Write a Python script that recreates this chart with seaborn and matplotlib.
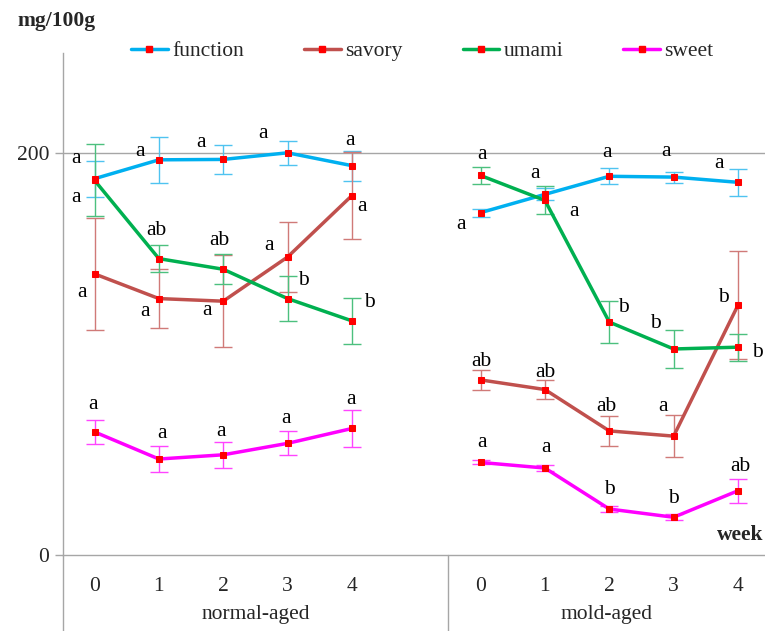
import pandas as pd
import seaborn as sns
import matplotlib.pyplot as plt
from matplotlib.lines import Line2D

sns.set_style("white")
plt.rcParams["font.family"] = ["Liberation Serif", "DejaVu Serif"]
plt.rcParams["font.size"] = 15.5

weeks = [0, 1, 2, 3, 4]
groups = ["normal-aged", "mold-aged"]
tastes = ["function", "savory", "umami", "sweet"]

# means, mg/100g
function_normal = [187.4, 196.8, 197.0, 200.3, 193.9]
function_mold = [170.5, 179.6, 188.6, 188.2, 185.6]
savory_normal = [140.0, 127.7, 126.4, 148.4, 179.0]
savory_mold = [87.2, 82.4, 61.8, 59.2, 124.4]
umami_normal = [186.6, 147.6, 142.3, 127.7, 116.6]
umami_mold = [189.0, 176.6, 116.0, 102.6, 103.5]
sweet_normal = [61.3, 47.8, 49.9, 55.6, 63.0]
sweet_mold = [46.1, 43.3, 22.9, 18.8, 32.0]

# error bars
function_normal_sd = [9.0, 11.3, 7.2, 6.0, 7.5]
function_mold_sd = [2.0, 3.0, 4.0, 2.7, 6.8]
savory_normal_sd = [28.0, 14.7, 22.8, 17.4, 21.8]
savory_mold_sd = [5.0, 4.6, 7.6, 10.5, 26.8]
umami_normal_sd = [18.0, 6.7, 7.5, 11.0, 11.6]
umami_mold_sd = [4.0, 7.0, 10.3, 9.5, 6.8]
sweet_normal_sd = [6.0, 6.6, 6.6, 6.0, 9.2]
sweet_mold_sd = [1.0, 1.5, 1.5, 1.5, 6.0]

# significance letters
function_normal_sig = ["a", "a", "a", "a", "a"]
function_mold_sig = ["a", "a", "a", "a", "a"]
savory_normal_sig = ["a", "a", "a", "a", "a"]
savory_mold_sig = ["ab", "ab", "ab", "a", "b"]
umami_normal_sig = ["a", "ab", "ab", "b", "b"]
umami_mold_sig = ["a", "a", "b", "b", "b"]
sweet_normal_sig = ["a", "a", "a", "a", "a"]
sweet_mold_sig = ["a", "a", "b", "b", "ab"]

series = {
    ("function", "normal-aged"): (function_normal, function_normal_sd, function_normal_sig),
    ("function", "mold-aged"): (function_mold, function_mold_sd, function_mold_sig),
    ("savory", "normal-aged"): (savory_normal, savory_normal_sd, savory_normal_sig),
    ("savory", "mold-aged"): (savory_mold, savory_mold_sd, savory_mold_sig),
    ("umami", "normal-aged"): (umami_normal, umami_normal_sd, umami_normal_sig),
    ("umami", "mold-aged"): (umami_mold, umami_mold_sd, umami_mold_sig),
    ("sweet", "normal-aged"): (sweet_normal, sweet_normal_sd, sweet_normal_sig),
    ("sweet", "mold-aged"): (sweet_mold, sweet_mold_sd, sweet_mold_sig),
}

# letter placement relative to the point, pixels (right, down)
label_offsets = {
    ("function", "normal-aged"): [(-19, -21), (-19, -9), (-22, -17), (-25, -20), (-2, -26)],
    ("savory", "normal-aged"): [(-13, 18), (-14, 12), (-16, 9), (-19, -12), (10, 10)],
    ("umami", "normal-aged"): [(-19, 17), (-2, -31), (-4, -31), (16, -21), (18, -21)],
    ("sweet", "normal-aged"): [(-2, -28), (3, -26), (-2, -24), (-2, -25), (-1, -29)],
    ("function", "mold-aged"): [(-20, 11), (-10, -21), (-2, -24), (-8, -26), (-19, -19)],
    ("savory", "mold-aged"): [(1, -21), (0, -20), (-3, -27), (-11, -30), (-15, -10)],
    ("umami", "mold-aged"): [(1, -21), (29, 11), (14, -17), (-18, -28), (19, 3)],
    ("sweet", "mold-aged"): [(1, -20), (1, -21), (0, -22), (0, -21), (2, -27)],
}

colors = {"function": "#00B0F0", "savory": "#C0504D", "umami": "#00B050", "sweet": "#FF00FF"}
err_colors = {"function": "#4FC3F0", "savory": "#D07A78", "umami": "#4CC07E", "sweet": "#FF44FF"}

rows = []
for (taste, group), (vals, sds, sigs) in series.items():
    gi = groups.index(group)
    for w, v, s, sig in zip(weeks, vals, sds, sigs):
        rows.append({"taste": taste, "group": group, "week": w,
                     "pos": w + 6 * gi, "value": v, "sd": s, "sig": sig})
df = pd.DataFrame(rows)

fig = plt.figure(figsize=(7.65, 6.31), dpi=100)
ax = fig.add_axes([63 / 765, 76 / 631, 702 / 765, 502 / 631])

# error bars first, lines on top
for (taste, group), sub in df.groupby(["taste", "group"]):
    ax.errorbar(sub["pos"], sub["value"], yerr=sub["sd"], fmt="none",
                ecolor=err_colors[taste], elinewidth=1, capsize=6.5,
                capthick=1, zorder=2)

sns.lineplot(data=df, x="pos", y="value", hue="taste", units="group",
             estimator=None, palette=colors, hue_order=tastes, sort=False,
             linewidth=2.5, marker="s", markersize=4.3,
             markerfacecolor="red", markeredgecolor="red",
             legend=False, ax=ax, zorder=3)

for _, r in df.iterrows():
    dx, dy = label_offsets[(r["taste"], r["group"])][r["week"]]
    shift = 5 if r["sig"] == "a" else 7
    ax.annotate(r["sig"], (r["pos"], r["value"]), xytext=(dx, -(dy + shift)),
                textcoords="offset pixels", ha="center", va="baseline",
                fontsize=15.5, color="black", zorder=4)

ax.set_xlim(-0.49, 10.42)
ax.set_ylim(0, 250)
ax.axhline(200, color="#A6A6A6", lw=1, zorder=1)

ax.set_yticks([0, 200])
ax.set_yticklabels(["0", "200"])
ax.tick_params(axis="y", direction="out", length=6, width=1,
               color="#A6A6A6", pad=4, left=True)
ax.set_xticks(df["pos"].unique())
ax.set_xticklabels([str(w) for w in weeks] * 2)
ax.tick_params(axis="x", length=0, pad=16)
ax.set_xlabel("")
ax.set_ylabel("")

for side in ["top", "right"]:
    ax.spines[side].set_visible(False)
for side in ["left", "bottom"]:
    ax.spines[side].set_color("#A6A6A6")
    ax.spines[side].set_linewidth(1)

# category group separators and names below the axis
trans = ax.get_xaxis_transform()
for xsep in [-0.49, 5.5]:
    ax.plot([xsep, xsep], [0, -0.152], color="#A6A6A6", lw=1,
            transform=trans, clip_on=False)
ax.text(2.5, -0.119, "normal-aged", transform=trans, ha="center", va="center")
ax.text(7.96, -0.119, "mold-aged", transform=trans, ha="center", va="center")

fig.text(17 / 765, 1 - 21 / 631, "mg/100g", fontweight="bold",
         ha="left", va="center")
fig.text(763 / 765, 1 - 535 / 631, "week", fontweight="bold",
         ha="right", va="center")

handles = [Line2D([], [], color=colors[t], lw=2.5, marker="s", markersize=4.3,
                  markerfacecolor="red", markeredgecolor="red") for t in tastes]
fig.legend(handles, tastes, loc="center", bbox_to_anchor=(0.552, 1 - 51 / 631),
           ncol=4, frameon=False, handlelength=1.7, handletextpad=0.2,
           columnspacing=2.8)

fig.savefig("out.png", dpi=100)
